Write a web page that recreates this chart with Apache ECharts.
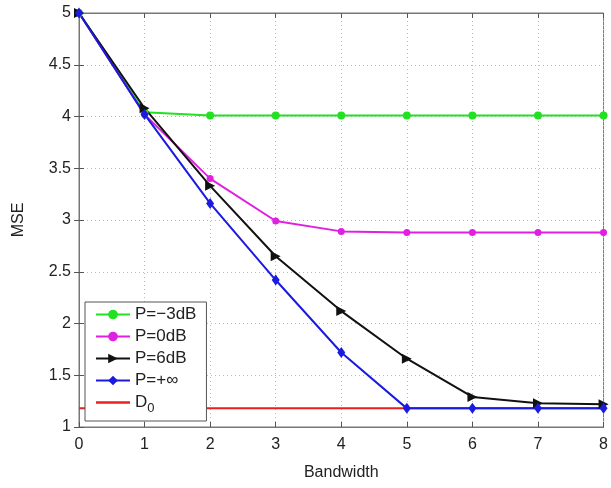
<!DOCTYPE html>
<html>
<head>
<meta charset="utf-8">
<script src="https://cdn.jsdelivr.net/npm/echarts@6/dist/echarts.min.js"></script>
<style>
  html, body { margin: 0; padding: 0; background: #fff; }
  #chart { width: 611px; height: 488px; }
</style>
</head>
<body>
<div id="chart"></div>
<script>
// bandwidth values on the x axis
var bandwidth = [0, 1, 2, 3, 4, 5, 6, 7, 8];
// MSE per power level
var pMinus3 = [5, 4.04, 4.01, 4.01, 4.01, 4.01, 4.01, 4.01, 4.01];
var p0 = [5, 4.02, 3.40, 2.99, 2.89, 2.88, 2.88, 2.88, 2.88];
var p6 = [5, 4.08, 3.33, 2.65, 2.12, 1.66, 1.29, 1.23, 1.22];
var pInf = [5, 4.02, 3.16, 2.42, 1.72, 1.18, 1.18, 1.18, 1.18];
var d0 = [1.18, 1.18, 1.18, 1.18, 1.18, 1.18, 1.18, 1.18, 1.18];
var yTicks = [1, 1.5, 2, 2.5, 3, 3.5, 4, 4.5, 5];

function pairs(ys){
    var out = [];
    for(var i = 0; i < bandwidth.length; i++){
        out.push([bandwidth[i], ys[i]]);
    }
    return out;
}

var font = 'Liberation Sans, Arial, sans-serif';
var gridLine = { show: true, lineStyle: { color: '#bbb', type: [1, 3], width: 1 } };

var myChart = echarts.init(document.getElementById('chart'));
myChart.setOption({
    animation: false,
    grid: { left: 79, right: 7, top: 13, bottom: 61, show: true, borderColor: '#777', borderWidth: 1 },
    xAxis: [{
        type: 'value', min: 0, max: 8, interval: 1,
        name: 'Bandwidth', nameLocation: 'middle', nameGap: 38,
        nameTextStyle: { fontFamily: font, fontSize: 16, color: '#222' },
        axisLine: { show: true, lineStyle: { color: '#777' } },
        axisTick: { inside: true, length: 5, lineStyle: { color: '#555' } },
        axisLabel: { fontFamily: font, fontSize: 16, color: '#222', margin: 10 },
        splitLine: gridLine
    }, {
        type: 'value', min: 0, max: 8, interval: 1, position: 'top',
        axisLine: { show: true, lineStyle: { color: '#777' } },
        axisTick: { inside: true, length: 5, lineStyle: { color: '#555' } },
        axisLabel: { show: false }, splitLine: { show: false }
    }],
    yAxis: [{
        type: 'value', min: 1, max: 5, interval: 0.5,
        name: 'MSE', nameLocation: 'middle', nameGap: 52,
        nameTextStyle: { fontFamily: font, fontSize: 16, color: '#222' },
        axisLine: { show: true, lineStyle: { color: '#777' } },
        axisTick: { inside: true, length: 5, lineStyle: { color: '#555' } },
        axisLabel: {
            fontFamily: font, fontSize: 16, color: '#222', margin: 8,
            formatter: function(v){ return yTicks.indexOf(v) >= 0 ? String(v) : ''; }
        },
        splitLine: gridLine
    }, {
        type: 'value', min: 1, max: 5, interval: 0.5, position: 'right',
        axisLine: { show: true, lineStyle: { color: '#777' } },
        axisTick: { inside: true, length: 5, lineStyle: { color: '#555' } },
        axisLabel: { show: false }, splitLine: { show: false }
    }],
    legend: {
        orient: 'vertical', left: 85, top: 302,
        backgroundColor: '#fff', borderColor: '#555', borderWidth: 1,
        padding: [4, 10, 6, 10], itemGap: 5, itemWidth: 34, itemHeight: 12,
        textStyle: {
            fontFamily: font, fontSize: 17, color: '#222',
            rich: { sub: { fontFamily: font, fontSize: 13, color: '#222', verticalAlign: 'bottom', padding: [12, 0, 0, 0] } }
        },
        formatter: function(name){ return name === 'D0' ? 'D{sub|0}' : name; },
        data: ['P=\u22123dB', 'P=0dB', 'P=6dB', 'P=+\u221e',
            { name: 'D0', icon: 'path://M0,0 L40,0 L40,3 L0,3 Z' }]
    },
    series: [{
        name: 'P=\u22123dB', type: 'line', data: pairs(pMinus3),
        symbol: 'circle', symbolSize: 8,
        lineStyle: { color: '#22e022', width: 2 },
        itemStyle: { color: '#22e022' }
    }, {
        name: 'P=0dB', type: 'line', data: pairs(p0),
        symbol: 'circle', symbolSize: 7,
        lineStyle: { color: '#e020e0', width: 2 },
        itemStyle: { color: '#e020e0' }
    }, {
        name: 'P=6dB', type: 'line', data: pairs(p6),
        symbol: 'triangle', symbolRotate: -90, symbolSize: 10,
        lineStyle: { color: '#111', width: 2 },
        itemStyle: { color: '#111' }
    }, {
        name: 'P=+\u221e', type: 'line', data: pairs(pInf),
        symbol: 'diamond', symbolSize: [8, 11],
        lineStyle: { color: '#1a1ae0', width: 2 },
        itemStyle: { color: '#1a1ae0' }
    }, {
        name: 'D0', type: 'line', data: pairs(d0), z: 1,
        symbol: 'none',
        lineStyle: { color: '#e82020', width: 2 },
        itemStyle: { color: '#e82020' }
    }]
});
</script>
</body>
</html>
